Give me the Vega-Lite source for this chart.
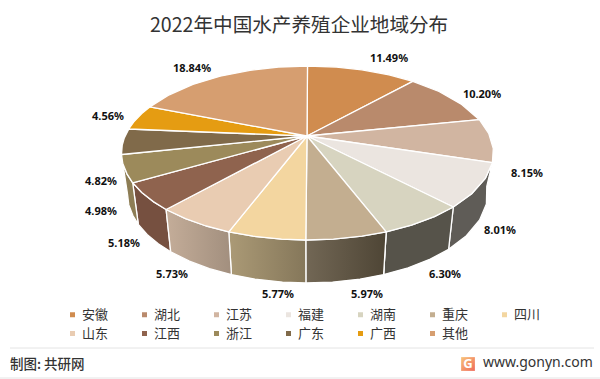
{"$schema":"https://vega.github.io/schema/vega-lite/v6.json","width":600,"height":379,"padding":0,"autosize":"none","background":"white","view":{"stroke":null},
"title":{"text":"2022年中国水产养殖企业地域分布","font":"Noto Sans CJK SC","fontSize":19.6,"fontWeight":"normal","color":"#333333","anchor":"start","frame":"group","dx":150,"dy":60,"baseline":"bottom"},
"datasets":{
"wall":[
{"name":"福建","i":0,"x":185.4,"y":-26.7},{"name":"福建","i":1,"x":178.3,"y":-42.4},{"name":"福建","i":2,"x":164.7,"y":-57.8},{"name":"福建","i":3,"x":146.3,"y":-71.0},{"name":"福建","i":4,"x":141.6,"y":-113.3},{"name":"福建","i":5,"x":159.4,"y":-99.7},{"name":"福建","i":6,"x":172.6,"y":-84.0},{"name":"福建","i":7,"x":179.4,"y":-67.9},{"name":"福建","i":8,"x":179.8,"y":-50.3},{"name":"福建","i":9,"x":185.4,"y":-26.7},
{"name":"湖南","i":0,"x":146.3,"y":-71.0},{"name":"湖南","i":1,"x":127.4,"y":-80.6},{"name":"湖南","i":2,"x":104.5,"y":-89.1},{"name":"湖南","i":3,"x":79.2,"y":-95.8},{"name":"湖南","i":4,"x":76.6,"y":-138.6},{"name":"湖南","i":5,"x":101.1,"y":-131.8},{"name":"湖南","i":6,"x":123.3,"y":-123.1},{"name":"湖南","i":7,"x":141.6,"y":-113.3},{"name":"湖南","i":8,"x":146.3,"y":-71.0},
{"name":"重庆","i":0,"x":79.2,"y":-95.8},{"name":"重庆","i":1,"x":54.9,"y":-100.2},{"name":"重庆","i":2,"x":26.4,"y":-103.1},{"name":"重庆","i":3,"x":-1.2,"y":-104},{"name":"重庆","i":4,"x":-1.1,"y":-147},{"name":"重庆","i":5,"x":25.5,"y":-146.1},{"name":"重庆","i":6,"x":53.1,"y":-143.1},{"name":"重庆","i":7,"x":76.6,"y":-138.6},{"name":"重庆","i":8,"x":79.2,"y":-95.8},
{"name":"四川","i":0,"x":-1.2,"y":-104},{"name":"四川","i":1,"x":-25.4,"y":-103.1},{"name":"四川","i":2,"x":-53.9,"y":-100.2},{"name":"四川","i":3,"x":-78.2,"y":-95.8},{"name":"四川","i":4,"x":-75.6,"y":-138.6},{"name":"四川","i":5,"x":-52.1,"y":-143.1},{"name":"四川","i":6,"x":-24.5,"y":-146.1},{"name":"四川","i":7,"x":-1.1,"y":-147},{"name":"四川","i":8,"x":-1.2,"y":-104},
{"name":"山东","i":0,"x":-78.2,"y":-95.8},{"name":"山东","i":1,"x":-100.9,"y":-90.0},{"name":"山东","i":2,"x":-121.5,"y":-82.7},{"name":"山东","i":3,"x":-140.9,"y":-73.5},{"name":"山东","i":4,"x":-136.3,"y":-115.8},{"name":"山东","i":5,"x":-117.6,"y":-125.2},{"name":"山东","i":6,"x":-97.6,"y":-132.7},{"name":"山东","i":7,"x":-75.6,"y":-138.6},{"name":"山东","i":8,"x":-78.2,"y":-95.8},
{"name":"江西","i":0,"x":-140.9,"y":-73.5},{"name":"江西","i":1,"x":-153.7,"y":-65.6},{"name":"江西","i":2,"x":-165.2,"y":-56.5},{"name":"江西","i":3,"x":-174.3,"y":-46.8},{"name":"江西","i":4,"x":-168.7,"y":-88.4},{"name":"江西","i":5,"x":-159.9,"y":-98.4},{"name":"江西","i":6,"x":-148.7,"y":-107.8},{"name":"江西","i":7,"x":-136.3,"y":-115.8},{"name":"江西","i":8,"x":-140.9,"y":-73.5},
{"name":"浙江","i":0,"x":-174.3,"y":-46.8},{"name":"浙江","i":1,"x":-179.9,"y":-38.1},{"name":"浙江","i":2,"x":-184.2,"y":-27.6},{"name":"浙江","i":3,"x":-185.5,"y":-18.5},{"name":"浙江","i":4,"x":-179.5,"y":-58},{"name":"浙江","i":5,"x":-178.2,"y":-68.9},{"name":"浙江","i":6,"x":-174.1,"y":-79.5},{"name":"浙江","i":7,"x":-168.7,"y":-88.4},{"name":"浙江","i":8,"x":-174.3,"y":-46.8}
],
"top":[
{"name":"安徽","i":0,"x":0,"y":0},{"name":"安徽","i":1,"x":0.5,"y":70},{"name":"安徽","i":2,"x":29.5,"y":68.9},{"name":"安徽","i":3,"x":54.9,"y":66.2},{"name":"安徽","i":4,"x":82,"y":61.2},{"name":"安徽","i":5,"x":105.8,"y":54.7},{"name":"安徽","i":6,"x":0,"y":0},
{"name":"湖北","i":0,"x":0,"y":0},{"name":"湖北","i":1,"x":105.8,"y":54.7},{"name":"湖北","i":2,"x":132,"y":44.5},{"name":"湖北","i":3,"x":154.7,"y":31.6},{"name":"湖北","i":4,"x":172.4,"y":16.3},{"name":"湖北","i":5,"x":0,"y":0},
{"name":"江苏","i":0,"x":0,"y":0},{"name":"江苏","i":1,"x":172.4,"y":16.3},{"name":"江苏","i":2,"x":181.7,"y":2.6},{"name":"江苏","i":3,"x":186.3,"y":-12.5},{"name":"江苏","i":4,"x":185.4,"y":-26.7},{"name":"江苏","i":5,"x":0,"y":0},
{"name":"福建","i":0,"x":0,"y":0},{"name":"福建","i":1,"x":185.4,"y":-26.7},{"name":"福建","i":2,"x":178.3,"y":-42.4},{"name":"福建","i":3,"x":164.7,"y":-57.8},{"name":"福建","i":4,"x":146.3,"y":-71},{"name":"福建","i":5,"x":0,"y":0},
{"name":"湖南","i":0,"x":0,"y":0},{"name":"湖南","i":1,"x":146.3,"y":-71},{"name":"湖南","i":2,"x":127.4,"y":-80.6},{"name":"湖南","i":3,"x":104.5,"y":-89.1},{"name":"湖南","i":4,"x":79.2,"y":-95.8},{"name":"湖南","i":5,"x":0,"y":0},
{"name":"重庆","i":0,"x":0,"y":0},{"name":"重庆","i":1,"x":79.2,"y":-95.8},{"name":"重庆","i":2,"x":54.9,"y":-100.2},{"name":"重庆","i":3,"x":26.4,"y":-103.1},{"name":"重庆","i":4,"x":-1.2,"y":-104},{"name":"重庆","i":5,"x":0,"y":0},
{"name":"四川","i":0,"x":0,"y":0},{"name":"四川","i":1,"x":-1.2,"y":-104},{"name":"四川","i":2,"x":-25.4,"y":-103.1},{"name":"四川","i":3,"x":-53.9,"y":-100.2},{"name":"四川","i":4,"x":-78.2,"y":-95.8},{"name":"四川","i":5,"x":0,"y":0},
{"name":"山东","i":0,"x":0,"y":0},{"name":"山东","i":1,"x":-78.2,"y":-95.8},{"name":"山东","i":2,"x":-100.9,"y":-90},{"name":"山东","i":3,"x":-121.5,"y":-82.7},{"name":"山东","i":4,"x":-140.9,"y":-73.5},{"name":"山东","i":5,"x":0,"y":0},
{"name":"江西","i":0,"x":0,"y":0},{"name":"江西","i":1,"x":-140.9,"y":-73.5},{"name":"江西","i":2,"x":-153.7,"y":-65.6},{"name":"江西","i":3,"x":-165.2,"y":-56.5},{"name":"江西","i":4,"x":-174.3,"y":-46.8},{"name":"江西","i":5,"x":0,"y":0},
{"name":"浙江","i":0,"x":0,"y":0},{"name":"浙江","i":1,"x":-174.3,"y":-46.8},{"name":"浙江","i":2,"x":-179.9,"y":-38.1},{"name":"浙江","i":3,"x":-184.2,"y":-27.6},{"name":"浙江","i":4,"x":-185.5,"y":-18.5},{"name":"浙江","i":5,"x":0,"y":0},
{"name":"广东","i":0,"x":0,"y":0},{"name":"广东","i":1,"x":-185.5,"y":-18.5},{"name":"广东","i":2,"x":-184.8,"y":-9.4},{"name":"广东","i":3,"x":-182.7,"y":-1.9},{"name":"广东","i":4,"x":-178.2,"y":7},{"name":"广东","i":5,"x":0,"y":0},
{"name":"广西","i":0,"x":0,"y":0},{"name":"广西","i":1,"x":-178.2,"y":7},{"name":"广西","i":2,"x":-173.2,"y":14.1},{"name":"广西","i":3,"x":-165.2,"y":22.5},{"name":"广西","i":4,"x":-157.2,"y":29.1},{"name":"广西","i":5,"x":0,"y":0},
{"name":"其他","i":0,"x":0,"y":0},{"name":"其他","i":1,"x":-157.2,"y":29.1},{"name":"其他","i":2,"x":-137.7,"y":41.2},{"name":"其他","i":3,"x":-114.1,"y":51.6},{"name":"其他","i":4,"x":-86.8,"y":59.8},{"name":"其他","i":5,"x":-57,"y":65.7},{"name":"其他","i":6,"x":-28.5,"y":69},{"name":"其他","i":7,"x":0.5,"y":70},{"name":"其他","i":8,"x":0,"y":0}
],
"labels":[
{"name":"安徽","value":"11.49%","x":82,"y":77},{"name":"湖北","value":"10.20%","x":175,"y":41},{"name":"江苏","value":"8.15%","x":220,"y":-38},{"name":"福建","value":"8.01%","x":193,"y":-95},{"name":"湖南","value":"6.30%","x":138,"y":-139},{"name":"重庆","value":"5.97%","x":60,"y":-159},{"name":"四川","value":"5.77%","x":-29,"y":-159},{"name":"山东","value":"5.73%","x":-135,"y":-139},{"name":"江西","value":"5.18%","x":-183,"y":-108},{"name":"浙江","value":"4.98%","x":-206,"y":-76},{"name":"广东","value":"4.82%","x":-206,"y":-46},{"name":"广西","value":"4.56%","x":-199,"y":19},{"name":"其他","value":"18.84%","x":-115,"y":67}
]},
"encoding":{"x":{"field":"x","type":"quantitative","axis":null,"scale":{"domain":[-307,293],"nice":false,"zero":false}},"y":{"field":"y","type":"quantitative","axis":null,"scale":{"domain":[-243,136],"nice":false,"zero":false}}},
"layer":[
{"data":{"name":"wall"},"mark":{"type":"line","filled":true,"stroke":"#ffffff","strokeWidth":1.3},
"encoding":{"order":{"field":"i","type":"ordinal"},"detail":{"field":"name"},
"fill":{"field":"name","type":"nominal","legend":null,"scale":{"domain":["福建","湖南","重庆","四川","山东","江西","浙江"],"range":["#5f5c57","#56534a","#5f5645","#988967","#b39e8b","#765040","#8d7d55"]}}}},
{"data":{"name":"wall"},"transform":[{"filter":"datum.name==='重庆'"}],"mark":{"type":"line","filled":true,"stroke":"#ffffff","strokeWidth":1.3,"fill":{"gradient":"linear","x1":0,"x2":1,"y1":0,"y2":0,"stops":[{"offset":0,"color":"#726755"},{"offset":1,"color":"#4e4535"}]}},"encoding":{"order":{"field":"i","type":"ordinal"}}},
{"data":{"name":"wall"},"transform":[{"filter":"datum.name==='四川'"}],"mark":{"type":"line","filled":true,"stroke":"#ffffff","strokeWidth":1.3,"fill":{"gradient":"linear","x1":0,"x2":1,"y1":0,"y2":0,"stops":[{"offset":0,"color":"#ab9a76"},{"offset":1,"color":"#85775a"}]}},"encoding":{"order":{"field":"i","type":"ordinal"}}},
{"data":{"name":"wall"},"transform":[{"filter":"datum.name==='山东'"}],"mark":{"type":"line","filled":true,"stroke":"#ffffff","strokeWidth":1.3,"fill":{"gradient":"linear","x1":0,"x2":1,"y1":0,"y2":0,"stops":[{"offset":0,"color":"#c4ad99"},{"offset":1,"color":"#a28f7e"}]}},"encoding":{"order":{"field":"i","type":"ordinal"}}},
{"data":{"name":"top"},"mark":{"type":"line","filled":true,"stroke":"#ffffff","strokeWidth":1.3,"strokeJoin":"round"},
"encoding":{"order":{"field":"i","type":"ordinal"},
"color":{"field":"name","type":"nominal","scale":{"domain":["安徽","湖北","江苏","福建","湖南","重庆","四川","山东","江西","浙江","广东","广西","其他"],"range":["#d08c4f","#b98a6c","#d1b5a1","#ebe5e0","#d7d4c0","#c3ae90","#f3d6a0","#e9ccb2","#8f634e","#9c8a5b","#806a4a","#e59c12","#d69e70"]},
"legend":{"title":null,"orient":"none","direction":"horizontal","legendX":66,"legendY":308,"columns":7,"columnPadding":29,"rowPadding":5,"symbolType":"square","symbolSize":25,"symbolStrokeWidth":0,"labelFont":"Noto Sans CJK SC","labelFontSize":13,"labelColor":"#333333","labelOffset":3,"symbolOpacity":1}}}},
{"data":{"name":"labels"},"mark":{"type":"text","font":"Noto Sans","fontWeight":"bold","fontSize":11,"color":"#111111","baseline":"middle"},"encoding":{"text":{"field":"value"}}},
{"data":{"values":[{"x":-297,"x2":287,"y":-212},{"x":-307,"x2":293,"y":-242}]},"mark":{"type":"rule","strokeWidth":1,"color":"#e4e4e4"},"encoding":{"x2":{"field":"x2"}}},
{"data":{"values":[{"x":-297,"y":-229,"t":"制图: 共研网"}]},"mark":{"type":"text","align":"left","baseline":"middle","font":"Noto Sans CJK SC","fontSize":13.5,"fontWeight":500,"color":"#333333"},"encoding":{"text":{"field":"t"}}},
{"data":{"values":[{"x":176,"y":-227,"t":"www.gonyn.com"}]},"mark":{"type":"text","align":"left","baseline":"middle","font":"Noto Sans","fontSize":14,"color":"#333333"},"encoding":{"text":{"field":"t"}}},
{"data":{"values":[{"x":161,"y":-228}]},"mark":{"type":"point","shape":"square","filled":true,"size":190,"opacity":1,"fill":{"gradient":"linear","x1":0,"x2":1,"y1":0,"y2":1,"stops":[{"offset":0,"color":"#f8c47a"},{"offset":1,"color":"#ef6a5a"}]}}},
{"data":{"values":[{"x":161,"y":-228,"t":"G"}]},"mark":{"type":"text","baseline":"middle","font":"Noto Sans","fontWeight":"bold","fontSize":13,"color":"white"},"encoding":{"text":{"field":"t"}}}
]}
